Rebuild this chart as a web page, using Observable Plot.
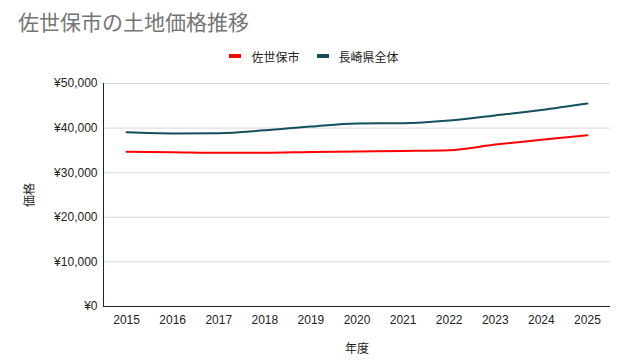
<!DOCTYPE html>
<html>
<head>
<meta charset="utf-8">
<script src="https://cdn.jsdelivr.net/npm/d3@7"></script>
<script src="https://cdn.jsdelivr.net/npm/@observablehq/plot@0.6"></script>
<style>
  html, body { margin: 0; padding: 0; background: #fff; }
  body { width: 640px; height: 364px; overflow: hidden; font-family: "Liberation Sans", Arial, "Noto Sans CJK JP", sans-serif; }
  #title { height: 42px; box-sizing: border-box; padding: 8px 0 0 18px; font-size: 21px; color: #757575; font-family: "Noto Sans CJK JP", sans-serif; line-height: 26px; }
  #legend { height: 28px; display: flex; justify-content: center; align-items: center; gap: 17px; font-size: 12px; color: #222; font-family: "Noto Sans CJK JP", sans-serif; padding-right: 12px; box-sizing: border-box; }
  .item { display: flex; align-items: center; gap: 10px; }
  .sw { width: 12px; height: 4px; display: inline-block; }
</style>
</head>
<body>
<div id="title">佐世保市の土地価格推移</div>
<div id="legend"></div>
<div id="chart"></div>
<script>
const years = [2015, 2016, 2017, 2018, 2019, 2020, 2021, 2022, 2023, 2024, 2025];
const sasebo = [34700, 34600, 34450, 34450, 34650, 34750, 34870, 35050, 36300, 37370, 38400];
const nagasaki = [39050, 38800, 38850, 39500, 40350, 41050, 41100, 41700, 42850, 44050, 45500];
const seriesNames = ["佐世保市", "長崎県全体"];
const seriesColors = ["#ff0000", "#134f5c"];
const yTicks = [0, 10000, 20000, 30000, 40000, 50000];

const rows = [];
years.forEach((yr, i) => {
  rows.push({year: yr, value: sasebo[i], series: seriesNames[0]});
  rows.push({year: yr, value: nagasaki[i], series: seriesNames[1]});
});

const legend = document.getElementById("legend");
seriesNames.forEach((n, i) => {
  const it = document.createElement("div");
  it.className = "item";
  it.innerHTML = `<span class="sw" style="background:${seriesColors[i]}"></span><span>${n}</span>`;
  legend.appendChild(it);
});

const fmt = d => "¥" + d3.format(",")(d);

const chart = Plot.plot({
  width: 640,
  height: 294,
  marginTop: 13,
  marginBottom: 58,
  marginLeft: 103,
  marginRight: 30,
  style: { fontFamily: "'Liberation Sans', Arial, 'Noto Sans CJK JP', sans-serif", fontSize: "12px", color: "#222" },
  x: { domain: [2014.5, 2025.5] },
  y: { domain: [0, 50000] },
  color: { domain: seriesNames, range: seriesColors },
  marks: [
    Plot.gridY(yTicks, { stroke: "#d9d9d9", strokeOpacity: 1 }),
    Plot.axisY(yTicks, { tickFormat: fmt, tickSize: 0, tickPadding: 6, label: "価格", labelAnchor: "center", labelOffset: 78, labelArrow: "none", fontSize: 12 }),
    Plot.axisX(years, { tickFormat: d => String(d), tickSize: 0, tickPadding: 9, label: "年度", labelAnchor: "center", labelOffset: 46, labelArrow: "none", fontSize: 12 }),
    Plot.ruleX([2014.5], { stroke: "#222", strokeWidth: 1 }),
    Plot.ruleY([0], { stroke: "#222", strokeWidth: 1 }),
    Plot.line(rows, { x: "year", y: "value", z: "series", stroke: "series", strokeWidth: 2, curve: "monotone-x" })
  ]
});
document.getElementById("chart").appendChild(chart);
</script>
</body>
</html>
